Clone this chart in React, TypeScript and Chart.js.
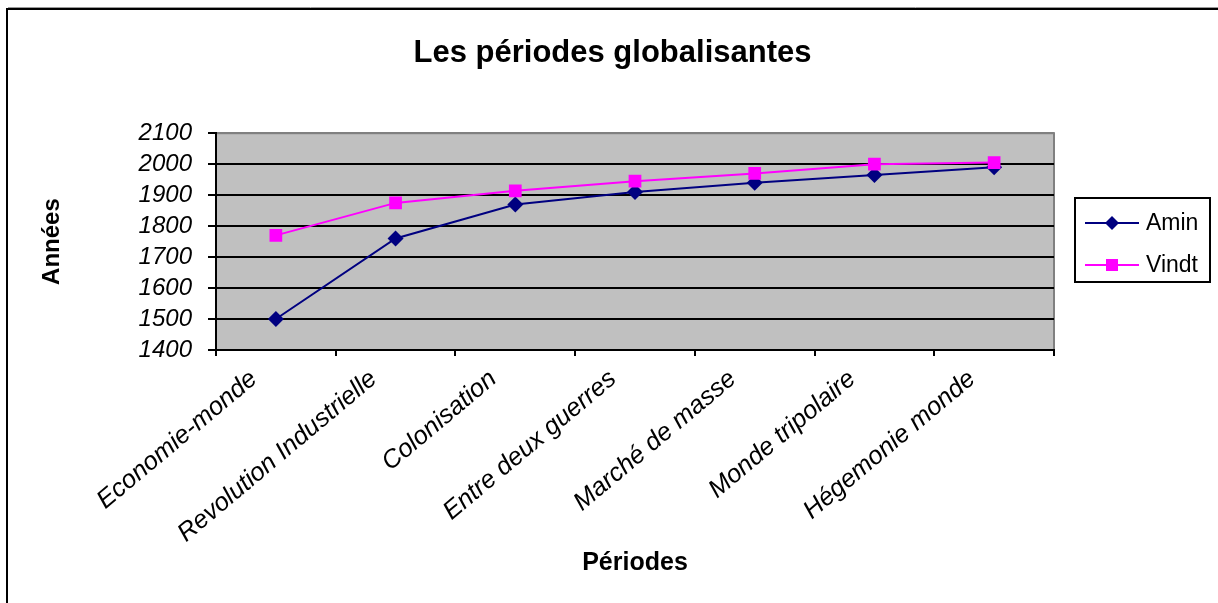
import React, { useEffect, useRef } from "react";
import { Chart, registerables } from "chart.js";

Chart.register(...registerables);

const categories = [
  "Economie-monde",
  "Revolution Industrielle",
  "Colonisation",
  "Entre deux guerres",
  "Marché de masse",
  "Monde tripolaire",
  "Hégemonie monde",
];
const aminValues = [1500, 1760, 1870, 1910, 1940, 1965, 1990];
const vindtValues = [1770, 1875, 1914, 1945, 1970, 2000, 2005];
const yMin = 1400;
const yMax = 2100;
const yStep = 100;

const FONT = '"Liberation Sans", Arial, sans-serif';

const framePlugin = {
  id: "frame",
  beforeDraw(chart: any) {
    const { ctx, chartArea } = chart;
    ctx.save();
    ctx.fillStyle = "#fff";
    ctx.fillRect(0, 0, chart.width, chart.height);
    ctx.strokeStyle = "#000";
    ctx.lineWidth = 2;
    ctx.beginPath();
    ctx.moveTo(7, chart.height);
    ctx.lineTo(7, 9);
    ctx.lineTo(chart.width, 9);
    ctx.stroke();
    ctx.strokeStyle = "#9a9a9a";
    ctx.lineWidth = 1;
    ctx.beginPath();
    ctx.moveTo(8, 7.5);
    ctx.lineTo(chart.width, 7.5);
    ctx.stroke();
    ctx.fillStyle = "#C0C0C0";
    ctx.fillRect(chartArea.left, chartArea.top, chartArea.right - chartArea.left, chartArea.bottom - chartArea.top);
    ctx.strokeStyle = "#808080";
    ctx.lineWidth = 2;
    ctx.strokeRect(chartArea.left, chartArea.top, chartArea.right - chartArea.left, chartArea.bottom - chartArea.top);
    ctx.restore();
  },
  afterDraw(chart: any) {
    const { ctx } = chart;
    ctx.save();
    const bx = 1075, by = 198, bw = 135, bh = 84;
    ctx.strokeStyle = "#000";
    ctx.lineWidth = 2;
    ctx.strokeRect(bx, by, bw, bh);
    const rows = [223, 265];
    chart.data.datasets.forEach((ds: any, i: number) => {
      const y = rows[i];
      ctx.strokeStyle = ds.borderColor;
      ctx.fillStyle = ds.backgroundColor;
      ctx.lineWidth = 2;
      ctx.beginPath();
      ctx.moveTo(1085, y);
      ctx.lineTo(1139, y);
      ctx.stroke();
      const cx = 1112;
      if (ds.pointStyle === "rectRot") {
        const r = 7;
        ctx.beginPath();
        ctx.moveTo(cx, y - r);
        ctx.lineTo(cx + r, y);
        ctx.lineTo(cx, y + r);
        ctx.lineTo(cx - r, y);
        ctx.closePath();
        ctx.fill();
      } else {
        ctx.fillRect(cx - 6, y - 6, 12, 12);
      }
      ctx.fillStyle = "#000";
      ctx.font = `23px ${FONT}`;
      ctx.textBaseline = "middle";
      ctx.textAlign = "left";
      ctx.fillText(ds.label, 1146, y + 1);
    });
    ctx.restore();
  },
};

export default function App() {
  const ref = useRef<HTMLCanvasElement>(null);
  useEffect(() => {
    if (!ref.current) return;
    const chart = new Chart(ref.current, {
      type: "line",
      data: {
        labels: categories,
        datasets: [
          {
            label: "Amin",
            data: aminValues,
            borderColor: "#000080",
            backgroundColor: "#000080",
            borderWidth: 2,
            pointStyle: "rectRot",
            pointRadius: 8,
            pointBorderWidth: 0,
            order: 2,
          },
          {
            label: "Vindt",
            data: vindtValues,
            borderColor: "#FF00FF",
            backgroundColor: "#FF00FF",
            borderWidth: 2,
            pointStyle: "rect",
            pointRadius: 9,
            pointBorderWidth: 0,
            order: 1,
            yAxisID: "y",
          },
        ],
      },
      options: {
        responsive: false,
        animation: false,
        devicePixelRatio: 1,
        layout: { padding: { left: 7, right: 0, top: 0, bottom: 0 } },
        plugins: {
          legend: { display: false },
          tooltip: { enabled: false },
          title: {
            display: true,
            text: "Les périodes globalisantes",
            color: "#000",
            font: { family: FONT, size: 31, weight: "bold" },
            padding: { top: 35, bottom: 61 },
          },
        },
        scales: {
          x: {
            offset: true,
            grid: {
              offset: true,
              drawOnChartArea: false,
              drawTicks: true,
              tickLength: 6,
              color: "#000",
              lineWidth: 2,
            },
            border: { display: true, color: "#000", width: 2 },
            ticks: {
              color: "#000",
              font: { family: FONT, size: 25.5, style: "italic" },
              minRotation: 40,
              maxRotation: 40,
              autoSkip: false,
              labelOffset: -22,
              padding: 8,
            },
            title: {
              display: true,
              text: "Périodes",
              color: "#000",
              font: { family: FONT, size: 25, weight: "bold" },
              padding: { top: 0, bottom: 25 },
            },
            afterFit(scale: any) {
              scale.height = 253;
            },
          },
          y: {
            min: yMin,
            max: yMax,
            grid: {
              color: (c: any) => (c.tick && c.tick.value === yMax ? "#808080" : "#000"),
              tickColor: "#000",
              lineWidth: 2,
              tickLength: 8,
            },
            border: { display: true, color: "#000", width: 2 },
            ticks: {
              stepSize: yStep,
              autoSkip: false,
              color: "#000",
              font: { family: FONT, size: 24, style: "italic" },
              padding: 16,
              callback: (v: any) => String(v),
            },
            title: {
              display: true,
              text: "Années",
              color: "#000",
              font: { family: FONT, size: 24, weight: "bold" },
              padding: { top: 31, bottom: 0 },
            },
            afterFit(scale: any) {
              scale.width = 209;
            },
          },
          yRight: {
            position: "right",
            display: true,
            grid: { display: false, drawTicks: false },
            border: { display: false },
            ticks: { display: false },
            afterFit(scale: any) {
              scale.width = 164;
            },
          },
        },
      },
      plugins: [framePlugin],
    } as any);
    return () => chart.destroy();
  }, []);
  return (
    <canvas
      ref={ref}
      width={1218}
      height={603}
      style={{ position: "fixed", left: 0, top: 0, width: 1218, height: 603 }}
    />
  );
}
